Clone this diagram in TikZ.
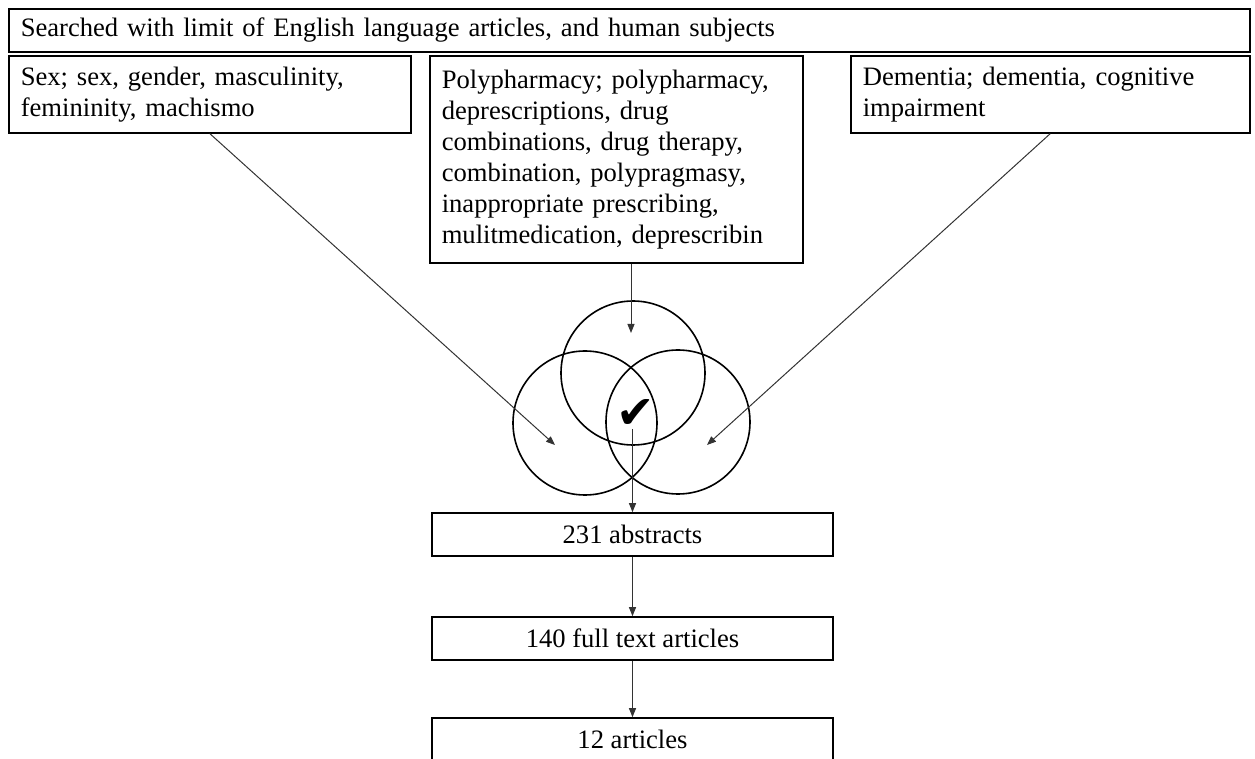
\documentclass[tikz,border=0pt]{standalone}
\usepackage{fontspec}
\setmainfont{Liberation Serif}
\newfontfamily\symfont{DejaVu Sans}
\usetikzlibrary{arrows.meta}
\begin{document}
\fontsize{13.3}{15.5}\selectfont
\begin{tikzpicture}[x=0.5pt, y=-0.5pt,
    box/.style = {draw, line width=0.8pt, inner xsep=6pt, align=left, anchor=north west},
    flow/.style = {draw, line width=0.8pt, minimum width=200.5pt, minimum height=21.5pt},
    ring/.style = {draw, circle, line width=0.8pt, minimum size=72pt, inner sep=0pt},
    arr/.style = {black!80, line width=0.5pt, -{Triangle[length=4.5pt, width=3.5pt]}}]
\useasboundingbox (0,0) rectangle (1255,759);
\node[box, text width=608.5pt, minimum height=21.5pt] (search) at (8,8) {Searched with limit of English language articles, and human subjects};
\node[box, text width=189pt, minimum height=38.5pt, inner ysep=3pt] (sex) at (8,55) {Sex; sex, gender, masculinity,\\ femininity, machismo\\[-3pt]};
\node[box, text width=174.5pt, minimum height=103.5pt] (poly) at (429,55) {Polypharmacy; polypharmacy,\\ deprescriptions, drug\\ combinations, drug therapy,\\ combination, polypragmasy,\\ inappropriate prescribing,\\ mulitmedication, deprescribin};
\node[box, text width=187.5pt, minimum height=38.5pt, inner ysep=3pt] (dem) at (850,55) {Dementia; dementia, cognitive\\ impairment\\[-3pt]};
\node[ring] (ctop) at (633,373) {};
\node[ring] (cleft) at (585,423) {};
\node[ring] (cright) at (678,422) {};
\node[inner sep=0pt, font=\symfont\fontsize{23}{23}\selectfont] (tick) at (636,414) {✔};
\coordinate (ptip) at (631,333);
\coordinate (stip) at (555,445);
\coordinate (dtip) at (707,445);
\node[flow] (abs) at (632.5,534.5) {231 abstracts};
\node[flow] (full) at (632.5,638.5) {140 full text articles};
\node[flow] (arts) at (632.5,739.5) {12 articles};
\draw[arr] (poly.south -| ptip) -- (ptip);
\draw[arr] (sex.south) -- (stip);
\draw[arr] (dem.south) -- (dtip);
\draw[arr] (abs.north |- tick.south) -- (abs.north);
\draw[arr] (abs.south) -- (full.north);
\draw[arr] (full.south) -- (arts.north);
\end{tikzpicture}
\end{document}
